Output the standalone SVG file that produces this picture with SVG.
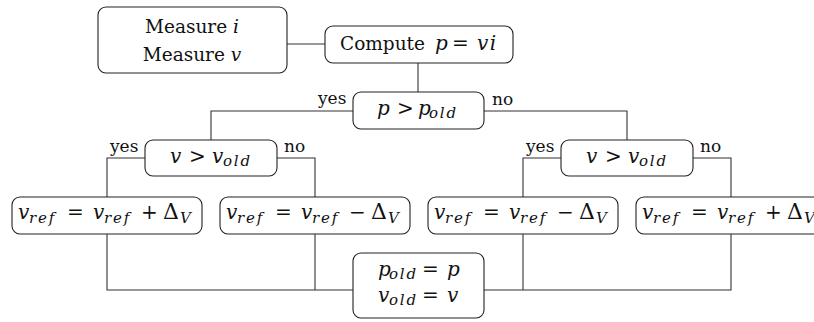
<svg xmlns="http://www.w3.org/2000/svg" width="814" height="322" viewBox="0 0 814 322">
<style>
.box{fill:#fff;stroke:#222;stroke-width:1.1}
.ln{fill:none;stroke:#333;stroke-width:1.1}
text{font-family:'DejaVu Serif','Liberation Serif',serif;font-size:18.5px;fill:#111}
.t{text-anchor:middle}
.m{font-size:20px}
.i{font-style:italic}
.s{font-size:15px;font-style:italic;letter-spacing:1.8px}
.d{font-size:22px}
.lb{font-size:17px}
</style>
<rect width="814" height="322" fill="#fff"/>
<g id="connectors">
<path class="ln" d="M287,44 H325"/>
<path class="ln" d="M418,63 V92"/>
<path class="ln" d="M353,111 H211 V140"/>
<path class="ln" d="M484,111 H627 V140"/>
<path class="ln" d="M145,158 H107 V197"/>
<path class="ln" d="M277,158 H315 V197"/>
<path class="ln" d="M561,158 H523 V197"/>
<path class="ln" d="M693,158 H731 V197"/>
<path class="ln" d="M107,234 V290 H353"/>
<path class="ln" d="M315,234 V290"/>
<path class="ln" d="M484,290 H731 V234"/>
<path class="ln" d="M523,234 V290"/>
</g>
<g id="measure">
<rect class="box" x="98" y="7" width="189" height="66" rx="8"/>
<text class="t" x="192" y="33">Measure <tspan class="i">i</tspan></text>
<text class="t" x="192" y="61">Measure <tspan class="i">v</tspan></text>
</g>
<g id="compute">
<rect class="box" x="325" y="26" width="188" height="37" rx="8"/>
<text y="50"><tspan x="340">Compute</tspan><tspan class="m i" x="435">p</tspan><tspan class="m" x="452">=</tspan><tspan class="m i" x="477" letter-spacing="1.5">vi</tspan></text>
</g>
<g id="pcmp">
<rect class="box" x="353" y="92" width="131" height="37" rx="8"/>
<text class="m"><tspan class="i" x="377" y="115">p</tspan><tspan x="397" y="115">&gt;</tspan><tspan class="i" x="418" y="115">p</tspan><tspan class="s" x="429" y="118">old</tspan></text>
<text class="lb" x="318" y="104">yes</text>
<text class="lb" x="492" y="105">no</text>
</g>
<g id="vcmp1">
<rect class="box" x="145" y="140" width="132" height="36" rx="8"/>
<text class="m"><tspan class="i" x="170" y="163">v</tspan><tspan x="189" y="163">&gt;</tspan><tspan class="i" x="212" y="163">v</tspan><tspan class="s" x="223" y="166">old</tspan></text>
<text class="lb" x="110" y="152">yes</text>
<text class="lb" x="284" y="152">no</text>
</g>
<g id="vcmp2">
<rect class="box" x="561" y="140" width="132" height="36" rx="8"/>
<text class="m"><tspan class="i" x="586" y="163">v</tspan><tspan x="605" y="163">&gt;</tspan><tspan class="i" x="628" y="163">v</tspan><tspan class="s" x="639" y="166">old</tspan></text>
<text class="lb" x="526" y="152">yes</text>
<text class="lb" x="700" y="152">no</text>
</g>
<g id="ref1">
<rect class="box" x="12" y="197" width="190" height="37" rx="8"/>
<text class="m"><tspan class="i" x="18" y="219">v</tspan><tspan class="s" x="29" y="223">ref</tspan><tspan x="67" y="219">=</tspan><tspan class="i" x="93" y="219">v</tspan><tspan class="s" x="104" y="223">ref</tspan><tspan x="141" y="219">+</tspan><tspan class="d" x="163" y="219">Δ</tspan><tspan class="s" x="180" y="223">V</tspan></text>
</g>
<g id="ref2">
<rect class="box" x="220" y="197" width="190" height="37" rx="8"/>
<text class="m"><tspan class="i" x="226" y="219">v</tspan><tspan class="s" x="237" y="223">ref</tspan><tspan x="275" y="219">=</tspan><tspan class="i" x="301" y="219">v</tspan><tspan class="s" x="312" y="223">ref</tspan><tspan x="349" y="219">−</tspan><tspan class="d" x="371" y="219">Δ</tspan><tspan class="s" x="388" y="223">V</tspan></text>
</g>
<g id="ref3">
<rect class="box" x="428" y="197" width="190" height="37" rx="8"/>
<text class="m"><tspan class="i" x="434" y="219">v</tspan><tspan class="s" x="445" y="223">ref</tspan><tspan x="483" y="219">=</tspan><tspan class="i" x="509" y="219">v</tspan><tspan class="s" x="520" y="223">ref</tspan><tspan x="557" y="219">−</tspan><tspan class="d" x="579" y="219">Δ</tspan><tspan class="s" x="596" y="223">V</tspan></text>
</g>
<g id="ref4">
<rect class="box" x="636" y="197" width="190" height="37" rx="8"/>
<text class="m"><tspan class="i" x="642" y="219">v</tspan><tspan class="s" x="653" y="223">ref</tspan><tspan x="691" y="219">=</tspan><tspan class="i" x="717" y="219">v</tspan><tspan class="s" x="728" y="223">ref</tspan><tspan x="765" y="219">+</tspan><tspan class="d" x="787" y="219">Δ</tspan><tspan class="s" x="804" y="223">V</tspan></text>
</g>
<g id="update">
<rect class="box" x="353" y="253" width="131" height="65" rx="8"/>
<text class="m"><tspan class="i" x="378" y="276">p</tspan><tspan class="s" x="389" y="279">old</tspan><tspan x="422" y="276">=</tspan><tspan class="i" x="447" y="276">p</tspan></text>
<text class="m"><tspan class="i" x="378" y="302">v</tspan><tspan class="s" x="389" y="305">old</tspan><tspan x="422" y="302">=</tspan><tspan class="i" x="447" y="302">v</tspan></text>
</g>
</svg>
